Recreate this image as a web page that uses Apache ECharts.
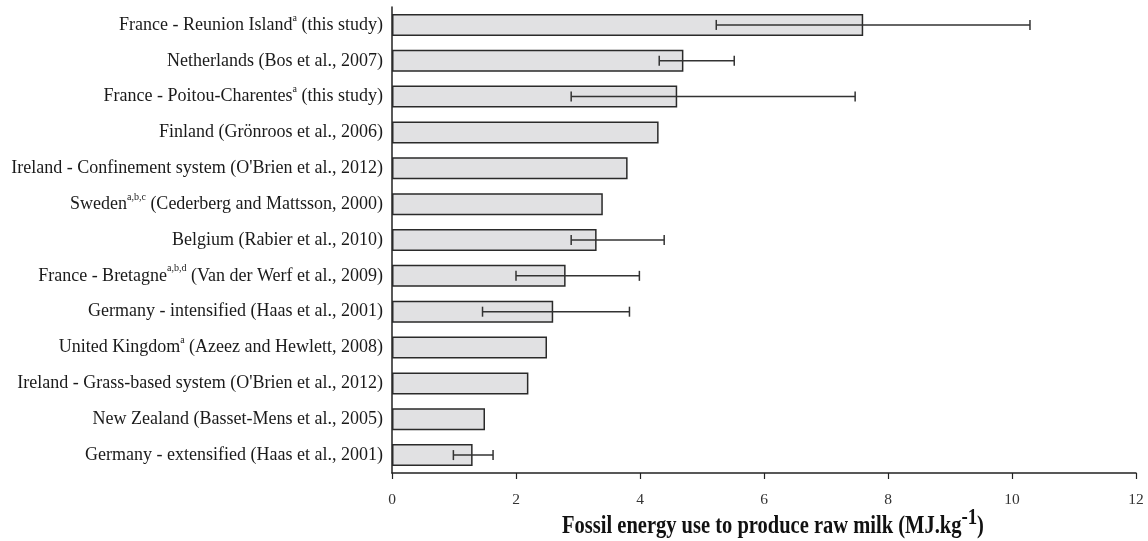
<!DOCTYPE html>
<html>
<head>
<meta charset="utf-8">
<script src="https://cdn.jsdelivr.net/npm/echarts@6/dist/echarts.min.js"></script>
<style>html,body{margin:0;padding:0;background:#fff;}#c{width:1148px;height:541px;}</style>
</head>
<body>
<div id="c"></div>
<script>
var categories = [
  'France - Reunion Island{sup|a} (this study)',
  'Netherlands (Bos et al., 2007)',
  'France - Poitou-Charentes{sup|a} (this study)',
  'Finland (Grönroos et al., 2006)',
  "Ireland - Confinement system (O'Brien et al., 2012)",
  'Sweden{sup|a,b,c} (Cederberg and Mattsson, 2000)',
  'Belgium (Rabier et al., 2010)',
  'France - Bretagne{sup|a,b,d} (Van der Werf et al., 2009)',
  'Germany - intensified (Haas et al., 2001)',
  'United Kingdom{sup|a} (Azeez and Hewlett, 2008)',
  "Ireland - Grass-based system (O'Brien et al., 2012)",
  'New Zealand (Basset-Mens et al., 2005)',
  'Germany - extensified (Haas et al., 2001)'
];
var values = [7.6, 4.7, 4.6, 4.3, 3.8, 3.4, 3.3, 2.8, 2.6, 2.5, 2.2, 1.5, 1.3];
var errLow  = [5.23, 4.31, 2.89, null, null, null, 2.89, 2.0, 1.46, null, null, null, 0.99];
var errHigh = [10.29, 5.52, 7.47, null, null, null, 4.39, 3.99, 3.83, null, null, null, 1.63];
var xTicks = [0, 2, 4, 6, 8, 10, 12];
var axisTitle = 'Fossil energy use to produce raw milk (MJ.kg{sup|-1})';

var errData = [];
for (var i = 0; i < categories.length; i++) {
  if (errLow[i] != null) errData.push([i, errLow[i], errHigh[i]]);
}

var chart = echarts.init(document.getElementById('c'));
chart.setOption({
  animation: false,
  backgroundColor: '#fff',
  grid: { left: 392, right: 12, top: 7, bottom: 68, containLabel: false },
  graphic: [{
    type: 'text',
    x: 773, y: 527,
    scaleX: 0.82,
    style: {
      text: axisTitle,
      fontFamily: 'Liberation Serif', fontSize: 25, fontWeight: 'bold', fill: '#111',
      align: 'center', verticalAlign: 'middle', lineHeight: 40,
      rich: {
        sup: { fontFamily: 'Liberation Serif', fontSize: 23, fontWeight: 'bold', fill: '#111', verticalAlign: 'top', lineHeight: 4 }
      }
    }
  }],
  xAxis: {
    type: 'value', min: xTicks[0], max: xTicks[xTicks.length - 1], interval: 2,
    axisLine: { show: true, lineStyle: { color: '#222', width: 1.5 } },
    axisTick: { show: true, length: 6, lineStyle: { color: '#222', width: 1.2 } },
    axisLabel: { fontFamily: 'Liberation Serif', fontSize: 15.5, color: '#333', margin: 19 },
    splitLine: { show: false }
  },
  yAxis: {
    type: 'category', data: categories, inverse: true,
    axisLine: { show: true, lineStyle: { color: '#222', width: 1.5 } },
    axisTick: { show: false },
    axisLabel: {
      fontFamily: 'Liberation Serif', fontSize: 18, color: '#1a1a1a', margin: 9, lineHeight: 24,
      rich: {
        sup: { fontFamily: 'Liberation Serif', fontSize: 10, color: '#1a1a1a', verticalAlign: 'top', lineHeight: 8 }
      }
    }
  },
  series: [
    {
      type: 'bar', data: values, barWidth: 22,
      itemStyle: { color: '#e1e1e3', borderColor: '#2a2a2a', borderWidth: 1.5 },
      z: 2
    },
    {
      type: 'custom', data: errData, z: 5,
      encode: { y: 0, x: [1, 2] },
      renderItem: function (params, api) {
        var idx = api.value(0);
        var p1 = api.coord([api.value(1), idx]);
        var p2 = api.coord([api.value(2), idx]);
        var h = 5;
        var st = { stroke: '#333', lineWidth: 1.5 };
        return {
          type: 'group',
          children: [
            { type: 'line', shape: { x1: p1[0], y1: p1[1], x2: p2[0], y2: p2[1] }, style: st },
            { type: 'line', shape: { x1: p1[0], y1: p1[1] - h, x2: p1[0], y2: p1[1] + h }, style: st },
            { type: 'line', shape: { x1: p2[0], y1: p2[1] - h, x2: p2[0], y2: p2[1] + h }, style: st }
          ]
        };
      }
    }
  ]
});
</script>
</body>
</html>
